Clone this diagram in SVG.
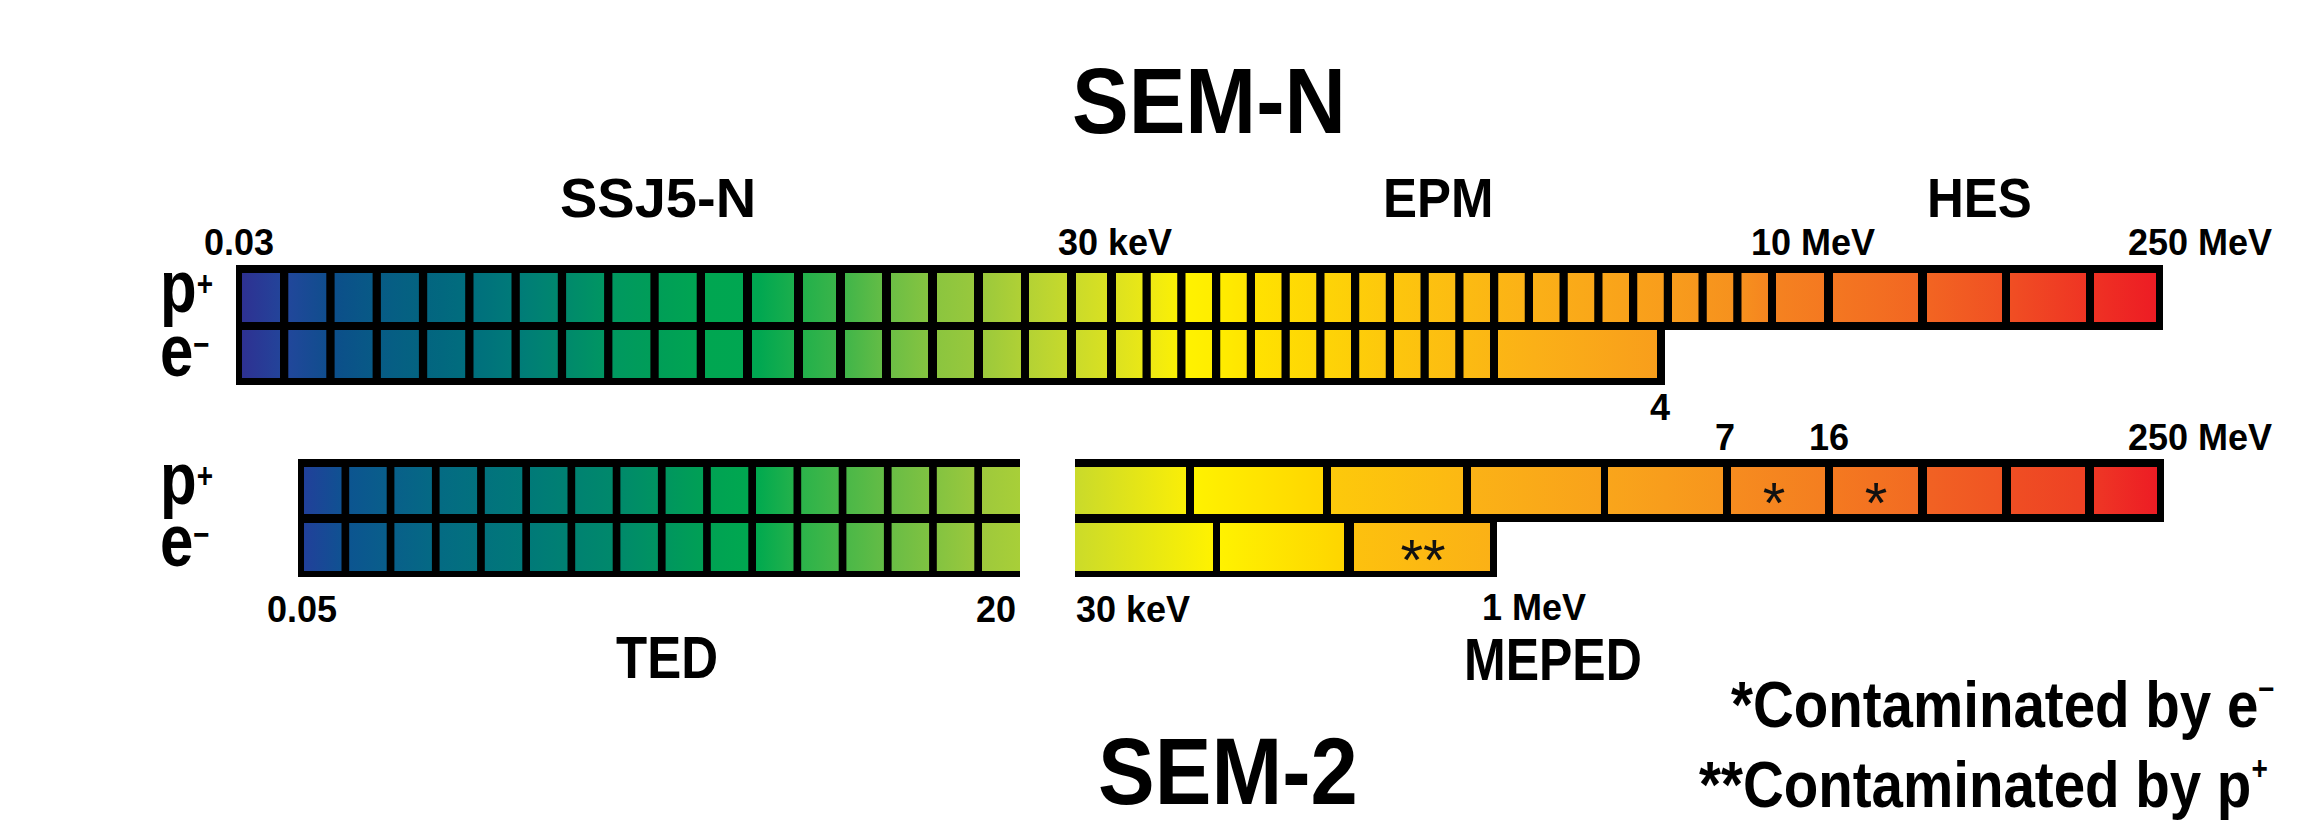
<svg xmlns="http://www.w3.org/2000/svg" width="2312" height="830" viewBox="0 0 2312 830">
  <style>
    .t { font-family: "Liberation Sans", Arial, sans-serif; font-weight: 700; fill: #000; }
    .title { font-size: 85px; }
    .inst { font-size: 51px; }
    .num { font-size: 36px; }
    .pe { font-size: 60px; }
    .sup { font-size: 28px; }
    .leg { font-size: 56.5px; }
    .star { font-family: "Liberation Sans", Arial, sans-serif; font-weight: 400; font-size: 58px; fill: #111; text-anchor: middle; }
    .frame { fill: #000; }
  </style>
  <defs>
    <!-- continuous colour ramp across the SEM-N channels -->
    <linearGradient id="gTop" gradientUnits="userSpaceOnUse" x1="242" y1="0" x2="2156" y2="0">
      <stop offset="0" stop-color="#2e3192"/>
      <stop offset="0.024" stop-color="#21479b"/>
      <stop offset="0.049" stop-color="#0c4f8a"/>
      <stop offset="0.073" stop-color="#075c85"/>
      <stop offset="0.097" stop-color="#036580"/>
      <stop offset="0.121" stop-color="#006f7d"/>
      <stop offset="0.145" stop-color="#007c78"/>
      <stop offset="0.169" stop-color="#00896c"/>
      <stop offset="0.193" stop-color="#009860"/>
      <stop offset="0.218" stop-color="#009e57"/>
      <stop offset="0.242" stop-color="#00a651"/>
      <stop offset="0.270" stop-color="#00a751"/>
      <stop offset="0.293" stop-color="#22b04b"/>
      <stop offset="0.315" stop-color="#40b549"/>
      <stop offset="0.339" stop-color="#6cbe45"/>
      <stop offset="0.363" stop-color="#8bc53f"/>
      <stop offset="0.387" stop-color="#9bc93c"/>
      <stop offset="0.411" stop-color="#b4d234"/>
      <stop offset="0.436" stop-color="#cbdb2a"/>
      <stop offset="0.457" stop-color="#dde21f"/>
      <stop offset="0.475" stop-color="#eee913"/>
      <stop offset="0.493" stop-color="#fff200"/>
      <stop offset="0.511" stop-color="#ffec00"/>
      <stop offset="0.529" stop-color="#ffe200"/>
      <stop offset="0.602" stop-color="#fdc60d"/>
      <stop offset="0.675" stop-color="#fbb017"/>
      <stop offset="0.747" stop-color="#f89c1c"/>
      <stop offset="0.783" stop-color="#f6901e"/>
      <stop offset="0.801" stop-color="#f58220"/>
      <stop offset="0.880" stop-color="#f26522"/>
      <stop offset="0.924" stop-color="#f04e23"/>
      <stop offset="1" stop-color="#ed1c24"/>
    </linearGradient>
    <!-- TED channels -->
    <linearGradient id="gTed" gradientUnits="userSpaceOnUse" x1="304" y1="0" x2="1020" y2="0">
      <stop offset="0" stop-color="#21409a"/>
      <stop offset="0.064" stop-color="#0c5590"/>
      <stop offset="0.19" stop-color="#046b83"/>
      <stop offset="0.316" stop-color="#007a78"/>
      <stop offset="0.443" stop-color="#008a6a"/>
      <stop offset="0.568" stop-color="#00a253"/>
      <stop offset="0.632" stop-color="#00a94f"/>
      <stop offset="0.696" stop-color="#2cb34a"/>
      <stop offset="0.822" stop-color="#6abd45"/>
      <stop offset="0.947" stop-color="#9ec93c"/>
      <stop offset="1" stop-color="#a8cf38"/>
    </linearGradient>
    <!-- MEPED proton channels, each cell shaded on its own -->
    <linearGradient id="gMepP" gradientUnits="userSpaceOnUse" x1="1075" y1="0" x2="2157" y2="0">
      <stop offset="0" stop-color="#c9da2b"/>
      <stop offset="0.1026" stop-color="#faee07"/>
      <stop offset="0.110" stop-color="#fff200"/>
      <stop offset="0.229" stop-color="#ffd600"/>
      <stop offset="0.237" stop-color="#fdc90b"/>
      <stop offset="0.359" stop-color="#fcb813"/>
      <stop offset="0.366" stop-color="#fbb216"/>
      <stop offset="0.486" stop-color="#f9a21b"/>
      <stop offset="0.493" stop-color="#f9a51b"/>
      <stop offset="0.599" stop-color="#f7951d"/>
      <stop offset="0.606" stop-color="#f68c1f"/>
      <stop offset="0.693" stop-color="#f47e20"/>
      <stop offset="0.701" stop-color="#f47920"/>
      <stop offset="0.779" stop-color="#f26b22"/>
      <stop offset="0.787" stop-color="#f16223"/>
      <stop offset="0.857" stop-color="#f05423"/>
      <stop offset="0.865" stop-color="#ef4e23"/>
      <stop offset="0.933" stop-color="#ee4124"/>
      <stop offset="0.942" stop-color="#ee3725"/>
      <stop offset="1" stop-color="#ed1c24"/>
    </linearGradient>
    <!-- MEPED electron channels -->
    <linearGradient id="gMepE" gradientUnits="userSpaceOnUse" x1="1075" y1="0" x2="1490" y2="0">
      <stop offset="0" stop-color="#cbdb2a"/>
      <stop offset="0.3325" stop-color="#fff200"/>
      <stop offset="0.349" stop-color="#fff200"/>
      <stop offset="0.648" stop-color="#fed500"/>
      <stop offset="0.672" stop-color="#fdc10e"/>
      <stop offset="1" stop-color="#fbb116"/>
    </linearGradient>
  </defs>

  <rect width="2312" height="830" fill="#fff"/>

  <!-- SEM-N: SSJ5-N + EPM + HES -->
  <g id="sem-n">
    <path class="frame" d="M236,265 H2163 V330 H1665 V385 H236 Z"/>
    <g id="sem-n-p" fill="url(#gTop)">
      <rect x="242" y="273" width="38" height="49"/>
      <rect x="288.3" y="273" width="38" height="49"/>
      <rect x="334.6" y="273" width="38" height="49"/>
      <rect x="380.9" y="273" width="38" height="49"/>
      <rect x="427.2" y="273" width="38" height="49"/>
      <rect x="473.5" y="273" width="38" height="49"/>
      <rect x="519.8" y="273" width="38" height="49"/>
      <rect x="566.1" y="273" width="38" height="49"/>
      <rect x="612.4" y="273" width="38" height="49"/>
      <rect x="658.7" y="273" width="38" height="49"/>
      <rect x="705" y="273" width="38" height="49"/>
      <rect x="752" y="273" width="42" height="49"/>
      <rect x="803" y="273" width="33" height="49"/>
      <rect x="845" y="273" width="37" height="49"/>
      <rect x="891" y="273" width="37" height="49"/>
      <rect x="937" y="273" width="37" height="49"/>
      <rect x="983" y="273" width="38" height="49"/>
      <rect x="1029" y="273" width="38" height="49"/>
      <rect x="1076" y="273" width="31" height="49"/>
      <rect x="1116" y="273" width="26.5" height="49"/>
      <rect x="1150.75" y="273" width="26.5" height="49"/>
      <rect x="1185.5" y="273" width="26.5" height="49"/>
      <rect x="1220.25" y="273" width="26.5" height="49"/>
      <rect x="1255" y="273" width="26.5" height="49"/>
      <rect x="1289.75" y="273" width="26.5" height="49"/>
      <rect x="1324.5" y="273" width="26.5" height="49"/>
      <rect x="1359.25" y="273" width="26.5" height="49"/>
      <rect x="1394" y="273" width="26.5" height="49"/>
      <rect x="1428.75" y="273" width="26.5" height="49"/>
      <rect x="1463.5" y="273" width="26.5" height="49"/>
      <rect x="1498.25" y="273" width="26.5" height="49"/>
      <rect x="1533" y="273" width="26.5" height="49"/>
      <rect x="1567.75" y="273" width="26.5" height="49"/>
      <rect x="1602.5" y="273" width="26.5" height="49"/>
      <rect x="1637.25" y="273" width="26.5" height="49"/>
      <rect x="1672" y="273" width="26.5" height="49"/>
      <rect x="1706.75" y="273" width="26.5" height="49"/>
      <rect x="1741.5" y="273" width="26.5" height="49"/>
      <rect x="1776" y="273" width="48" height="49"/>
      <rect x="1833" y="273" width="85" height="49"/>
      <rect x="1927" y="273" width="75" height="49"/>
      <rect x="2010" y="273" width="76" height="49"/>
      <rect x="2094" y="273" width="62" height="49"/>
    </g>
    <g id="sem-n-e" fill="url(#gTop)">
      <rect x="242" y="330" width="38" height="48"/>
      <rect x="288.3" y="330" width="38" height="48"/>
      <rect x="334.6" y="330" width="38" height="48"/>
      <rect x="380.9" y="330" width="38" height="48"/>
      <rect x="427.2" y="330" width="38" height="48"/>
      <rect x="473.5" y="330" width="38" height="48"/>
      <rect x="519.8" y="330" width="38" height="48"/>
      <rect x="566.1" y="330" width="38" height="48"/>
      <rect x="612.4" y="330" width="38" height="48"/>
      <rect x="658.7" y="330" width="38" height="48"/>
      <rect x="705" y="330" width="38" height="48"/>
      <rect x="752" y="330" width="42" height="48"/>
      <rect x="803" y="330" width="33" height="48"/>
      <rect x="845" y="330" width="37" height="48"/>
      <rect x="891" y="330" width="37" height="48"/>
      <rect x="937" y="330" width="37" height="48"/>
      <rect x="983" y="330" width="38" height="48"/>
      <rect x="1029" y="330" width="38" height="48"/>
      <rect x="1076" y="330" width="31" height="48"/>
      <rect x="1116" y="330" width="26.5" height="48"/>
      <rect x="1150.75" y="330" width="26.5" height="48"/>
      <rect x="1185.5" y="330" width="26.5" height="48"/>
      <rect x="1220.25" y="330" width="26.5" height="48"/>
      <rect x="1255" y="330" width="26.5" height="48"/>
      <rect x="1289.75" y="330" width="26.5" height="48"/>
      <rect x="1324.5" y="330" width="26.5" height="48"/>
      <rect x="1359.25" y="330" width="26.5" height="48"/>
      <rect x="1394" y="330" width="26.5" height="48"/>
      <rect x="1428.75" y="330" width="26.5" height="48"/>
      <rect x="1463.5" y="330" width="26.5" height="48"/>
      <rect x="1498" y="330" width="159" height="48"/>
    </g>
  </g>

  <!-- SEM-2: TED -->
  <g id="ted">
    <path class="frame" d="M298,459 H1020 V577 H298 Z"/>
    <g fill="url(#gTed)">
      <rect x="304" y="467" width="37.5" height="47"/>
      <rect x="349.2" y="467" width="37.5" height="47"/>
      <rect x="394.4" y="467" width="37.5" height="47"/>
      <rect x="439.6" y="467" width="37.5" height="47"/>
      <rect x="484.8" y="467" width="37.5" height="47"/>
      <rect x="530" y="467" width="37.5" height="47"/>
      <rect x="575.2" y="467" width="37.5" height="47"/>
      <rect x="620.4" y="467" width="37.5" height="47"/>
      <rect x="665.6" y="467" width="37.5" height="47"/>
      <rect x="710.8" y="467" width="37.5" height="47"/>
      <rect x="756" y="467" width="37.5" height="47"/>
      <rect x="801.2" y="467" width="37.5" height="47"/>
      <rect x="846.4" y="467" width="37.5" height="47"/>
      <rect x="891.6" y="467" width="37.5" height="47"/>
      <rect x="936.8" y="467" width="37.5" height="47"/>
      <rect x="982" y="467" width="38" height="47"/>
      <rect x="304" y="523" width="37.5" height="48"/>
      <rect x="349.2" y="523" width="37.5" height="48"/>
      <rect x="394.4" y="523" width="37.5" height="48"/>
      <rect x="439.6" y="523" width="37.5" height="48"/>
      <rect x="484.8" y="523" width="37.5" height="48"/>
      <rect x="530" y="523" width="37.5" height="48"/>
      <rect x="575.2" y="523" width="37.5" height="48"/>
      <rect x="620.4" y="523" width="37.5" height="48"/>
      <rect x="665.6" y="523" width="37.5" height="48"/>
      <rect x="710.8" y="523" width="37.5" height="48"/>
      <rect x="756" y="523" width="37.5" height="48"/>
      <rect x="801.2" y="523" width="37.5" height="48"/>
      <rect x="846.4" y="523" width="37.5" height="48"/>
      <rect x="891.6" y="523" width="37.5" height="48"/>
      <rect x="936.8" y="523" width="37.5" height="48"/>
      <rect x="982" y="523" width="38" height="48"/>
    </g>
  </g>

  <!-- SEM-2: MEPED -->
  <g id="meped">
    <path class="frame" d="M1075,459 H2164 V522 H1497 V577 H1075 Z"/>
    <g fill="url(#gMepP)">
      <rect x="1075" y="467" width="111" height="47"/>
      <rect x="1194" y="467" width="129" height="47"/>
      <rect x="1331" y="467" width="132" height="47"/>
      <rect x="1471" y="467" width="130" height="47"/>
      <rect x="1608" y="467" width="115" height="47"/>
      <rect x="1731" y="467" width="94" height="47"/>
      <rect x="1833" y="467" width="85" height="47"/>
      <rect x="1927" y="467" width="75" height="47"/>
      <rect x="2011" y="467" width="74" height="47"/>
      <rect x="2094" y="467" width="63" height="47"/>
    </g>
    <g fill="url(#gMepE)">
      <rect x="1075" y="523" width="138" height="48"/>
      <rect x="1220" y="523" width="124" height="48"/>
      <rect x="1354" y="523" width="136" height="48"/>
    </g>
    <text class="star" x="1774" y="523">*</text>
    <text class="star" x="1876" y="523">*</text>
    <text class="star" x="1423" y="580">**</text>
  </g>

  <!-- particle row labels: proton row above, electron row below -->
  <g id="particles">
    <text class="t pe" transform="translate(160,312) scale(1,1.22)">p<tspan class="sup" dy="-13">+</tspan><tspan x="0" y="52.46">e</tspan><tspan class="sup" dy="-16">−</tspan></text>
    <text class="t pe" transform="translate(160,504) scale(1,1.22)">p<tspan class="sup" dy="-13">+</tspan><tspan x="0" y="50.82">e</tspan><tspan class="sup" dy="-16">−</tspan></text>
  </g>

  <!-- titles and instrument names -->
  <g id="titles">
    <text class="t title" transform="translate(1072,133) scale(1,1.09)">SEM-N</text>
    <text class="t inst" style="font-size:56px" x="560" y="217">SSJ5-N</text>
    <text class="t inst" transform="translate(1383,217) scale(1,1.1)">EPM</text>
    <text class="t inst" transform="translate(1927,217) scale(1,1.1)">HES</text>
    <text class="t inst" transform="translate(616,678) scale(1,1.15)">TED</text>
    <text class="t inst" style="font-size:50px" transform="translate(1464,680) scale(1,1.17)">MEPED</text>
    <text class="t title" transform="translate(1098,804) scale(1,1.12)">SEM-2</text>
  </g>

  <!-- energy boundaries -->
  <g id="energies">
    <text class="t num" x="204" y="255">0.03</text>
    <text class="t num" x="1058" y="255">30 keV</text>
    <text class="t num" x="1751" y="255">10 MeV</text>
    <text class="t num" x="2128" y="255">250 MeV</text>
    <text class="t num" x="1650" y="420">4</text>
    <text class="t num" x="1715" y="450">7</text>
    <text class="t num" x="1809" y="450">16</text>
    <text class="t num" x="2128" y="450">250 MeV</text>
    <text class="t num" x="267" y="622">0.05</text>
    <text class="t num" x="976" y="622">20</text>
    <text class="t num" x="1076" y="622">30 keV</text>
    <text class="t num" x="1482" y="620">1 MeV</text>
  </g>

  <!-- contamination notes -->
  <g id="legend">
    <text class="t leg" transform="translate(1731,727) scale(1,1.16)">*Contaminated by e<tspan class="sup" dy="-23">−</tspan></text>
    <text class="t leg" transform="translate(1699,807) scale(1,1.16)">**Contaminated by p<tspan class="sup" dy="-23">+</tspan></text>
  </g>
</svg>
